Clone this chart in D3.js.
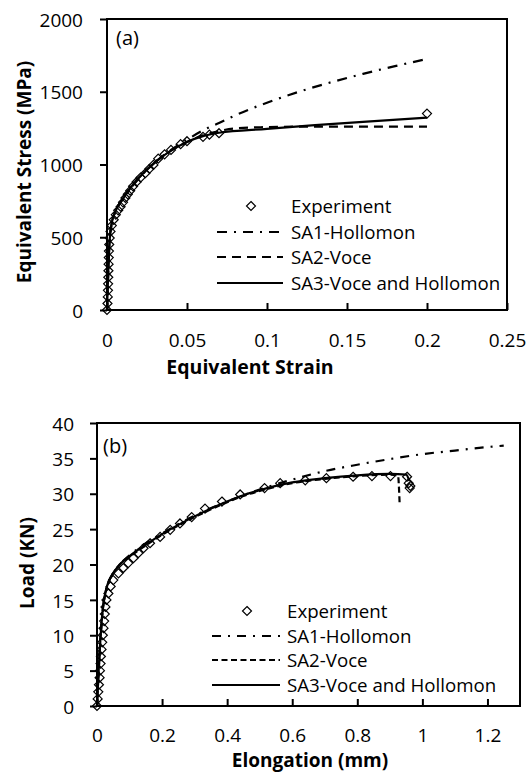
<!DOCTYPE html>
<html><head><meta charset="utf-8">
<script src="https://cdn.jsdelivr.net/npm/d3@7"></script>
<style>body{margin:0;background:#fff} svg text{font-family:"Open Sans",sans-serif;fill:#000}</style>
</head><body><svg id="c" width="529" height="774"></svg>
<script>
// ---------- Data: panel (a) ----------
const aExpStrain = [0,0.0003,0.0005,0.0006,0.0007,0.0008,0.0009,0.001,0.0011,0.0012,0.0014,0.0017,0.0022,0.003,0.0042,0.0055,0.007,0.0085,0.010,0.0115,0.013,0.0145,0.0163,0.0185,0.021,0.024,0.0265,0.029,0.032,0.036,0.04,0.046,0.05,0.06,0.064,0.07,0.2];
const aExpStress = [0,45,90,135,180,225,270,315,360,405,450,495,540,580,620,655,685,710,740,770,795,820,850,880,910,940,970,997,1040,1070,1100,1140,1160,1190,1205,1215,1350];
const aSA1Strain = [0,0.0015,0.003,0.005,0.01,0.015,0.02,0.03,0.04,0.05,0.06,0.07,0.08,0.1,0.12,0.14,0.16,0.18,0.2];
const aSA1Stress = [0,450,600,670,765,840,905,1015,1100,1170,1235,1285,1337,1425,1500,1565,1623,1676,1725];
const aSA2Strain = [0,0.0015,0.003,0.005,0.01,0.015,0.02,0.03,0.04,0.05,0.06,0.07,0.08,0.1,0.12,0.2];
const aSA2Stress = [0,450,600,670,765,845,910,1015,1095,1155,1200,1230,1248,1257,1260,1260];
const aSA3Strain = [0,0.0015,0.003,0.005,0.01,0.015,0.02,0.03,0.04,0.05,0.06,0.07,0.1,0.13,0.16,0.2];
const aSA3Stress = [0,450,600,670,765,845,910,1015,1095,1155,1195,1218,1245,1270,1293,1322];
const aXTicks = [0,0.05,0.1,0.15,0.2,0.25];
const aYTicks = [0,500,1000,1500,2000];

// ---------- Data: panel (b) ----------
const bExpElong = [0,0.002,0.004,0.006,0.008,0.009,0.011,0.012,0.014,0.016,0.018,0.02,0.022,0.024,0.026,0.029,0.035,0.042,0.05,0.066,0.081,0.096,0.112,0.127,0.143,0.163,0.194,0.225,0.255,0.291,0.332,0.384,0.44,0.515,0.563,0.64,0.705,0.787,0.845,0.902,0.953,0.958,0.963,0.961];
const bExpLoad = [0,1,2,3,4,5,6,7,8,9,10,11,12,13,14,15,15.9,16.9,17.8,18.75,19.5,20.2,20.9,21.6,22.3,23.0,23.9,24.9,25.8,26.7,27.9,28.9,29.9,30.8,31.5,31.9,32.2,32.4,32.5,32.5,32.4,31.5,31.1,30.8];
const bSA1Elong = [0,0.004,0.008,0.012,0.016,0.02,0.025,0.03,0.04,0.05,0.07,0.1,0.15,0.2,0.3,0.4,0.5,0.6,0.7,0.8,0.9,1.0,1.1,1.2,1.25];
const bSA1Load = [0,4,7.5,10.5,12.8,14.5,15.8,16.8,18,18.8,20,21.3,23,24.4,26.9,28.9,30.6,32.0,33.2,34.1,34.9,35.6,36.1,36.6,36.8];
const bSA2Elong = [0,0.004,0.008,0.012,0.016,0.02,0.025,0.03,0.04,0.05,0.07,0.1,0.15,0.2,0.25,0.3,0.35,0.4,0.45,0.5,0.6,0.7,0.8,0.9,0.925,0.93];
const bSA2Load = [0,4,7.5,10.5,12.8,14.5,15.8,16.8,18,18.8,20,21.1,22.7,24.2,25.5,26.7,27.8,28.8,29.7,30.4,31.5,32.1,32.5,32.7,32.6,28.7];
const bSA3Elong = [0,0.004,0.008,0.012,0.016,0.02,0.025,0.03,0.04,0.05,0.07,0.1,0.15,0.2,0.25,0.3,0.35,0.4,0.45,0.5,0.6,0.7,0.8,0.9,0.95,0.96];
const bSA3Load = [0,4,7.5,10.5,12.8,14.5,15.8,16.8,18,18.8,20,21.2,22.8,24.3,25.6,26.8,27.9,28.9,29.8,30.5,31.6,32.2,32.6,32.8,32.7,31.8];
const bXTicks = [0,0.2,0.4,0.6,0.8,1,1.2];
const bYTicks = [0,5,10,15,20,25,30,35,40];

const legendLabels = ["Experiment","SA1-Hollomon","SA2-Voce","SA3-Voce and Hollomon"];

// ---------- Drawing ----------
const svg = d3.select("#c");
const zip = (xs, ys) => xs.map((x,i)=>[x, ys[i]]);
const diamond = r => `M0,${-r}L${r},0L0,${r}L${-r},0Z`;

function panel(o){
  const g = svg.append("g");
  const x = d3.scaleLinear().domain(o.xDomain).range([o.left, o.right]);
  const y = d3.scaleLinear().domain(o.yDomain).range([o.bottom, o.top]);
  const line = d3.line().x(d=>x(d[0])).y(d=>y(d[1])).curve(d3.curveMonotoneX);

  const xa = g.append("g").attr("transform",`translate(0,${o.bottom})`)
    .call(d3.axisBottom(x).tickValues(o.xTicks).tickFormat(d=>String(d)).tickSizeInner(-7).tickSizeOuter(0).tickPadding(o.xPad));
  xa.select(".domain").remove();
  xa.selectAll("line").attr("stroke","#000").attr("stroke-width",2);
  xa.selectAll("text").attr("font-size",19).attr("font-family","Open Sans");
  const ya = g.append("g").attr("transform",`translate(${o.left},0)`)
    .call(d3.axisLeft(y).tickValues(o.yTicks).tickFormat(d=>String(d)).tickSizeInner(7).tickSizeOuter(0).tickPadding(o.yPad));
  ya.select(".domain").remove();
  ya.selectAll("line").attr("stroke","#000").attr("stroke-width",2);
  ya.selectAll("text").attr("font-size",19).attr("font-family","Open Sans").attr("dy","0.38em");

  g.append("rect").attr("x",o.left).attr("y",o.top).attr("width",o.right-o.left).attr("height",o.bottom-o.top)
    .attr("fill","none").attr("stroke","#000").attr("stroke-width",2);

  o.series.forEach(s=>{
    g.append("path").datum(s.data).attr("d",line).attr("fill","none").attr("stroke","#000")
      .attr("stroke-width",2.2).attr("stroke-dasharray",s.dash);
  });
  g.append("g").selectAll("path").data(o.exp).join("path")
    .attr("transform",d=>`translate(${x(d[0])},${y(d[1])})`)
    .attr("d",diamond(4.5)).attr("fill","none").attr("stroke","#000").attr("stroke-width",1.2);

  g.append("text").attr("x",o.tagX).attr("y",o.tagY).attr("font-size",20).text(o.tag);
  g.append("text").attr("x",o.xTitleX).attr("y",o.xTitleY).attr("text-anchor","middle")
    .attr("font-size",o.xTitleSize).attr("font-weight","bold").text(o.xTitle);
  g.append("text").attr("transform",`translate(${o.yTitleX},${o.yTitleY}) rotate(-90)`).attr("text-anchor","middle")
    .attr("font-size",19).attr("font-weight","bold").text(o.yTitle);

  const lg = g.append("g");
  o.legRows.forEach((ry,i)=>{
    if(i===0){
      lg.append("path").attr("transform",`translate(${(o.legX0+o.legX1)/2+1},${ry})`).attr("d",diamond(4.5))
        .attr("fill","none").attr("stroke","#000").attr("stroke-width",1.2);
    } else {
      lg.append("line").attr("x1",o.legX0).attr("x2",o.legX1).attr("y1",ry).attr("y2",ry)
        .attr("stroke","#000").attr("stroke-width",2.2).attr("stroke-dasharray",o.series[i-1].dash);
    }
    lg.append("text").attr("x",o.legTX).attr("y",ry).attr("dy","0.36em").attr("font-size",18.7).text(legendLabels[i]);
  });
}

panel({
  left:107, right:507, top:19, bottom:310,
  xDomain:[0,0.25], yDomain:[0,2000], xTicks:aXTicks, yTicks:aYTicks, xPad:24, yPad:17,
  exp: zip(aExpStrain,aExpStress),
  series:[
    {data:zip(aSA1Strain,aSA1Stress), dash:"10,7,2,7"},
    {data:zip(aSA2Strain,aSA2Stress), dash:"9,6"},
    {data:zip(aSA3Strain,aSA3Stress), dash:null}
  ],
  tag:"(a)", tagX:116, tagY:45,
  xTitle:"Equivalent Strain", xTitleX:250, xTitleY:374, xTitleSize:19.5,
  yTitle:"Equivalent Stress (MPa)", yTitleX:31, yTitleY:172,
  legRows:[206,232,257,283], legX0:217, legX1:283, legTX:291
});

panel({
  left:97, right:520, top:423, bottom:706,
  xDomain:[0,1.3], yDomain:[0,40], xTicks:bXTicks, yTicks:bYTicks, xPad:23, yPad:16,
  exp: zip(bExpElong,bExpLoad),
  series:[
    {data:zip(bSA1Elong,bSA1Load), dash:"9,7,2,7"},
    {data:zip(bSA2Elong,bSA2Load), dash:"6,3.5"},
    {data:zip(bSA3Elong,bSA3Load), dash:null}
  ],
  tag:"(b)", tagX:103, tagY:453,
  xTitle:"Elongation (mm)", xTitleX:310, xTitleY:767, xTitleSize:19,
  yTitle:"Load (KN)", yTitleX:34, yTitleY:563,
  legRows:[611,636,660,685], legX0:212, legX1:280, legTX:287
});
</script></body></html>
